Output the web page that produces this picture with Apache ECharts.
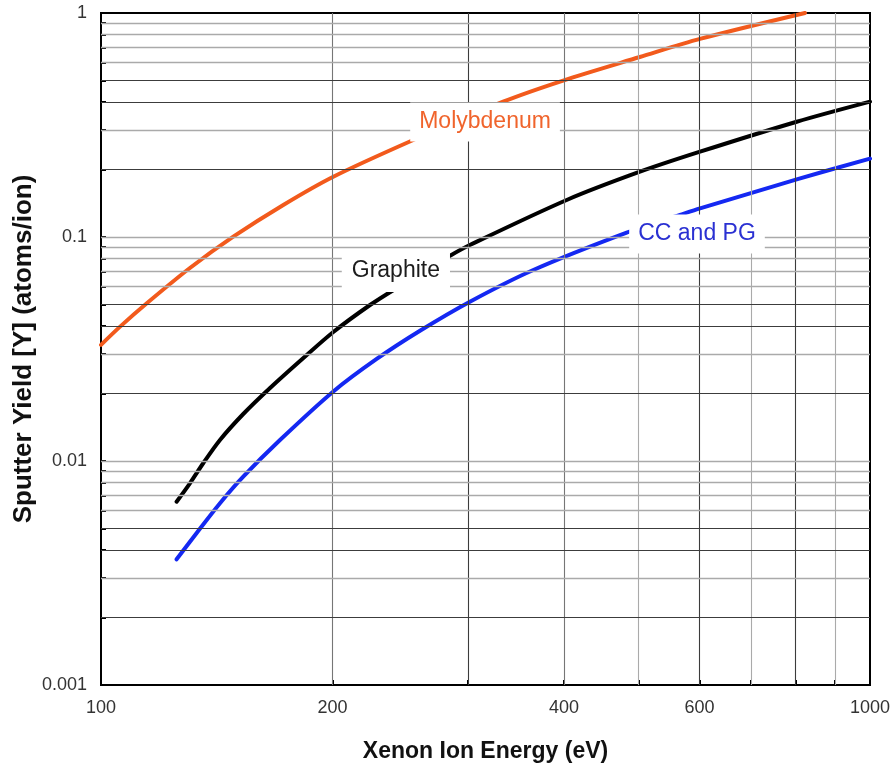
<!DOCTYPE html>
<html>
<head>
<meta charset="utf-8">
<script src="https://cdn.jsdelivr.net/npm/echarts@6/dist/echarts.min.js"></script>
<style>
  html, body { margin: 0; padding: 0; background: #fff; }
  #chart { width: 895px; height: 767px; }
</style>
</head>
<body>
<div id="chart"></div>
<script>
// Xenon ion energy (eV) and sputter yield (atoms/ion) for each target material
const molybdenumEnergy = [100, 105.8, 114.7, 130.5, 148.6, 172.6, 200.5, 254.7, 333.4, 399, 502, 601, 823];
const molybdenumYield  = [0.0330, 0.0397, 0.0506, 0.0727, 0.1003, 0.139, 0.1858, 0.271, 0.402, 0.4995, 0.636, 0.766, 1.0];

const graphiteEnergy = [125.4, 130.5, 135.8, 142.8, 153.1, 165.9, 183.3, 200.5, 223.8, 242.4, 284.4, 301.8, 403.3, 502.2, 601.2, 803, 1000];
const graphiteYield  = [0.00658, 0.00795, 0.00977, 0.01241, 0.01621, 0.02118, 0.02883, 0.03766, 0.0497, 0.0592, 0.0825, 0.0921, 0.1463, 0.1956, 0.2403, 0.327, 0.402];

const ccpgEnergy = [125.4, 133.1, 142.8, 153.1, 170.9, 200.5, 228.3, 259.9, 301.8, 364.9, 482.6, 566.2, 601.2, 803, 1000];
const ccpgYield  = [0.00364, 0.00476, 0.00648, 0.00851, 0.0124, 0.02043, 0.02854, 0.03814, 0.05142, 0.07123, 0.1046, 0.1254, 0.1341, 0.1808, 0.2239];

// Axis ticks, labels and grid lines
const energyTicks  = [100, 200, 300, 400, 500, 600, 700, 800, 900, 1000];
const energyLabels = [100, 200, 400, 600, 1000];
const energyDarkLines = [300, 600, 800];
const energyMidLines  = [200, 400];
const yieldTicks = [];
[0.001, 0.01, 0.1].forEach(function (d) {
  for (let k = 1; k <= 9; k++) yieldTicks.push(+(d * k).toPrecision(3));
});
yieldTicks.push(1);
const yieldLabels = [0.001, 0.01, 0.1, 1];
const yieldDarkMantissas = [2, 4, 5];

// Curve annotations: name, anchor energy, anchor yield, text colour
const curveNames   = ['Molybdenum', 'Graphite', 'CC and PG'];
const curveLabelE  = [315.8, 241.8, 595.7];
const curveLabelY  = [0.326, 0.0705, 0.1031];
const curveTextColors = ['#f0642c', '#1c1c1c', '#2a30d2'];

const zip = (xs, ys) => xs.map((x, i) => [x, ys[i]]);
const fontFamily = '"Liberation Sans", Arial, Helvetica, sans-serif';

const DARK = '#3c3c3c', MID = '#767676', LIGHT = '#aaaaaa';

function mantissa(v) {
  const e = Math.floor(Math.log10(v) + 1e-9);
  return Math.round(v / Math.pow(10, e));
}

const verticalGrid = energyTicks.slice(1, -1).map(function (e) {
  let c = LIGHT;
  if (energyDarkLines.indexOf(e) >= 0) c = DARK;
  else if (energyMidLines.indexOf(e) >= 0) c = MID;
  return { xAxis: e, lineStyle: { color: c, width: 1.1, type: 'solid' } };
});
const horizontalGrid = yieldTicks.filter(v => v > 0.001 && v < 1).map(function (v) {
  const dark = yieldDarkMantissas.indexOf(mantissa(v)) >= 0;
  return { yAxis: v, lineStyle: { color: dark ? DARK : LIGHT, width: dark ? 1.1 : 1.3, type: 'solid' } };
});

const chart = echarts.init(document.getElementById('chart'), null, { renderer: 'canvas' });

chart.setOption({
  animation: false,
  backgroundColor: '#ffffff',
  grid: {
    left: 101, right: 25, top: 13, bottom: 82,
    outerBoundsMode: 'none', containLabel: false,
    show: true, borderColor: '#000', borderWidth: 2, backgroundColor: 'transparent'
  },
  xAxis: {
    type: 'log', logBase: 10, min: 100, max: 1000,
    name: 'Xenon Ion Energy (eV)',
    nameLocation: 'middle', nameGap: 55, nameMoveOverlap: false,
    nameTextStyle: { fontFamily: fontFamily, fontSize: 23, fontWeight: 'bold', color: '#111' },
    axisLine: { show: true, lineStyle: { color: '#000', width: 2 } },
    axisTick: { show: true, inside: true, length: 5, customValues: energyTicks, lineStyle: { color: '#000', width: 2 } },
    axisLabel: {
      customValues: energyLabels, margin: 14,
      fontFamily: fontFamily, fontSize: 18, color: '#333',
      formatter: v => String(Math.round(v))
    },
    splitLine: { show: false },
    minorTick: { show: false }, minorSplitLine: { show: false }
  },
  yAxis: {
    type: 'log', logBase: 10, min: 0.001, max: 1,
    name: 'Sputter Yield [Y] (atoms/ion)',
    nameLocation: 'middle', nameGap: 64, nameRotate: 90, nameMoveOverlap: false,
    nameTextStyle: { fontFamily: fontFamily, fontSize: 26, fontWeight: 'bold', color: '#111' },
    axisLine: { show: true, lineStyle: { color: '#000', width: 2 } },
    axisTick: { show: true, inside: true, length: 5, customValues: yieldTicks, lineStyle: { color: '#000', width: 2 } },
    axisLabel: {
      customValues: yieldLabels, margin: 14,
      fontFamily: fontFamily, fontSize: 18, color: '#333',
      formatter: v => String(+(+v).toPrecision(3))
    },
    splitLine: { show: false },
    minorTick: { show: false }, minorSplitLine: { show: false }
  },
  series: [
    {
      // grid lines of the log-log frame
      type: 'line', data: [], z: 1, silent: true,
      markLine: {
        symbol: 'none', silent: true, animation: false, precision: 10,
        label: { show: false },
        emphasis: { disabled: true },
        data: verticalGrid.concat(horizontalGrid)
      }
    },
    {
      name: 'Molybdenum', type: 'line', z: 3,
      data: zip(molybdenumEnergy, molybdenumYield),
      smooth: 0.3, showSymbol: false, clip: true,
      lineStyle: { color: '#f25a1c', width: 4, cap: 'round' }
    },
    {
      name: 'Graphite', type: 'line', z: 3,
      data: zip(graphiteEnergy, graphiteYield),
      smooth: 0.3, showSymbol: false, clip: true,
      lineStyle: { color: '#000000', width: 4, cap: 'round' }
    },
    {
      name: 'CC and PG', type: 'line', z: 3,
      data: zip(ccpgEnergy, ccpgYield),
      smooth: 0.3, showSymbol: false, clip: true,
      lineStyle: { color: '#1428f2', width: 4, cap: 'round' }
    },
    {
      // curve names on white boxes
      type: 'scatter', z: 6, silent: true,
      symbolSize: 0,
      itemStyle: { opacity: 1 },
      data: curveNames.map((n, i) => ({
        name: n,
        value: [curveLabelE[i], curveLabelY[i]],
        label: { color: curveTextColors[i], padding: i === 1 ? [10, 10, 9, 10] : [8, 9, 8, 9] }
      })),
      label: {
        show: true, position: 'inside',
        formatter: p => p.name,
        fontFamily: fontFamily, fontSize: 23,
        backgroundColor: '#ffffff',
        opacity: 1
      }
    }
  ]
});
</script>
</body>
</html>
